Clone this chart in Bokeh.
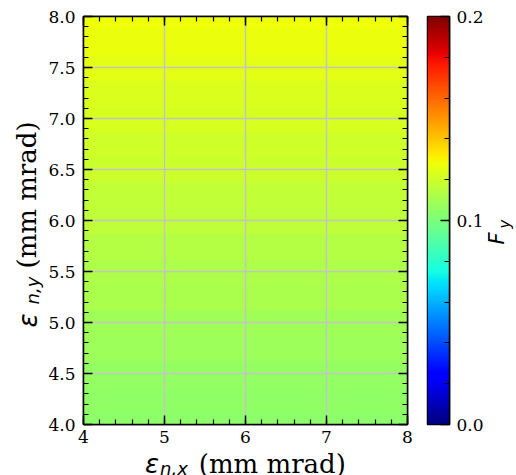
import numpy as np
from bokeh.plotting import figure
from bokeh.layouts import row, column
from bokeh.models import (LinearColorMapper, SingleIntervalTicker, LinearAxis,
                          PrintfTickFormatter, Range1d)
from bokeh.core.properties import value
from bokeh.embed import file_html
from bokeh.resources import INLINE

# ---------------- data ----------------
eps_y = [4.00, 4.25, 4.50, 4.75, 5.00, 5.25, 5.50, 5.75, 6.00,
         6.25, 6.50, 6.75, 7.00, 7.25, 7.50, 7.75, 8.00]
F_y = [0.104, 0.105, 0.106, 0.108, 0.109, 0.111, 0.112, 0.114, 0.116,
       0.117, 0.119, 0.120, 0.122, 0.123, 0.125, 0.127, 0.128]
eps_x_span = [4.0, 8.0]
F_range = [0.0, 0.2]

# ---------------- jet palette ----------------
def jet_palette(n=256):
    t = np.linspace(0, 1, n)
    r = np.interp(t, [0, 0.35, 0.66, 0.89, 1], [0, 0, 1, 1, 0.5])
    g = np.interp(t, [0, 0.125, 0.375, 0.64, 0.91, 1], [0, 0, 1, 1, 0, 0])
    b = np.interp(t, [0, 0.11, 0.34, 0.65, 1], [0.5, 1, 1, 0, 0])
    return ["#%02x%02x%02x" % (int(round(a * 255)), int(round(c * 255)), int(round(d * 255)))
            for a, c, d in zip(r, g, b)]

PAL = jet_palette()
mapper = LinearColorMapper(palette=PAL, low=F_range[0], high=F_range[1])

SERIF = "DejaVu Serif"
SANS = "DejaVu Sans"
TICK_FS = "17px"
LBL_FS = "26px"
SUB_FS = "18px"

# page layout (pixels): main frame spans x 81..407, y 16..424
FT, FB = 16, 424


def text_fig(width, height, x0, x1, y_top, y_bot, bl=0, br=0, bt=0, bb=0):
    f = figure(title=None, width=width, height=height,
               x_range=Range1d(x0, x1), y_range=Range1d(y_bot, y_top),
               output_backend="svg", toolbar_location=None,
               x_axis_location=None, y_axis_location=None,
               min_border=0, min_border_left=bl, min_border_right=br,
               min_border_top=bt, min_border_bottom=bb, outline_line_color=None,
               background_fill_color="white", border_fill_color="white")
    f.grid.visible = False
    return f


def put(f, x, y, txt, font, size, italic=False, align="left", angle=0.0):
    f.text(x=[x], y=[y], text=[txt], angle=angle, text_align=align, text_baseline="alphabetic",
           text_font=value(font), text_font_size=value(size),
           text_font_style="italic" if italic else "normal", text_color="black")


def style_axis(ax, ticker, show_labels=True, fmt=None):
    ax.ticker = ticker
    ax.axis_line_color = "black"
    ax.axis_line_width = 1.5
    ax.major_tick_line_color = "black"
    ax.major_tick_line_width = 1.5
    ax.minor_tick_line_color = "black"
    ax.minor_tick_line_width = 1.2
    ax.major_tick_in = 9
    ax.major_tick_out = 0
    ax.minor_tick_in = 5
    ax.minor_tick_out = 0
    if fmt is not None:
        ax.formatter = fmt
    if show_labels:
        ax.major_label_text_font = SERIF
        ax.major_label_text_font_size = TICK_FS
        ax.major_label_text_color = "black"
    else:
        ax.major_label_text_color = None
        ax.major_label_text_font_size = "1px"


# ---------------- main heatmap ----------------
p = figure(width=375, height=450, x_range=Range1d(4, 8), y_range=Range1d(4, 8),
           output_backend="svg", toolbar_location=None,
           min_border_left=36, min_border_right=13, min_border_top=16, min_border_bottom=26,
           background_fill_color="white", border_fill_color="white",
           outline_line_color="black", outline_line_width=1.5)

x_c = (eps_x_span[0] + eps_x_span[1]) / 2
x_w = eps_x_span[1] - eps_x_span[0]
p.rect(x=[x_c] * len(eps_y), y=eps_y, width=x_w, height=0.25,
       fill_color={"field": "y", "transform": mapper},
       line_color={"field": "y", "transform": mapper}, level="image")
r = p.renderers[-1]
r.data_source.data["f"] = F_y
r.glyph.fill_color = {"field": "f", "transform": mapper}
r.glyph.line_color = {"field": "f", "transform": mapper}

p.xgrid.grid_line_color = "#c4c4c4"
p.ygrid.grid_line_color = "#c4c4c4"
p.xgrid.grid_line_width = 1.5
p.ygrid.grid_line_width = 1.5

style_axis(p.xaxis[0], SingleIntervalTicker(interval=1, num_minor_ticks=5), True,
           PrintfTickFormatter(format="%d"))
p.xaxis[0].major_label_standoff = 6
style_axis(p.yaxis[0], SingleIntervalTicker(interval=0.5, num_minor_ticks=5), True,
           PrintfTickFormatter(format="%.1f"))
p.yaxis[0].major_label_standoff = 8
p.xgrid.ticker = p.xaxis[0].ticker
p.ygrid.ticker = p.yaxis[0].ticker

top_ax = LinearAxis()
style_axis(top_ax, SingleIntervalTicker(interval=1, num_minor_ticks=5), False)
p.add_layout(top_ax, "above")
right_ax = LinearAxis()
style_axis(right_ax, SingleIntervalTicker(interval=0.5, num_minor_ticks=5), False)
p.add_layout(right_ax, "right")

# ---------------- x-axis label strip (frame aligned with main frame: x 81..407) ----------------
xl = text_fig(375, 25, 81, 407, 450, 475, bl=36, br=13)
put(xl, 157, 463, "ε", SANS, LBL_FS, italic=True, align="right")
put(xl, 158, 468, "n,x", SANS, SUB_FS, italic=True)
put(xl, 197, 463, "(mm mrad)", SERIF, LBL_FS)

# ---------------- y-axis label strip (frame aligned: y 16..424) ----------------
ang = np.pi / 2
yl = text_fig(45, 475, 0, 45, FT, FB, bt=FT, bb=475 - FB)
put(yl, 27, 327, "ε", SANS, LBL_FS, italic=True, angle=ang)
put(yl, 32, 304, "n,y", SANS, SUB_FS, italic=True, angle=ang)
put(yl, 26, 268, "(mm mrad)", SERIF, LBL_FS, angle=ang)

# ---------------- colour bar ----------------
cb = figure(width=67, height=475, x_range=Range1d(0, 1), y_range=Range1d(F_range[0], F_range[1]),
            output_backend="svg", toolbar_location=None, x_axis_location=None, y_axis_location="right",
            min_border_left=7, min_border_right=38, min_border_top=FT, min_border_bottom=475 - FB,
            background_fill_color="white", border_fill_color="white",
            outline_line_color="black", outline_line_width=1.5)
grad = np.linspace(F_range[0], F_range[1], 256).reshape(-1, 1)
cb.image(image=[grad], x=0, y=F_range[0], dw=1, dh=F_range[1] - F_range[0], color_mapper=mapper)
cb.xgrid.visible = False
cb.ygrid.visible = False
cax = cb.yaxis[0]
style_axis(cax, SingleIntervalTicker(interval=0.1, num_minor_ticks=5), True,
           PrintfTickFormatter(format="%.1f"))
cax.major_label_standoff = 7

# ---------------- colour-bar label strip ----------------
fl = text_fig(29, 475, 487, 516, FT, FB, bt=FT, bb=475 - FB)
put(fl, 496, 244, "F", SANS, "21px", italic=True, angle=ang)
put(fl, 504, 228, "y", SANS, "15px", italic=True, angle=ang)

layout = row(yl, column(p, xl), cb, fl)
open("out.html", "w").write(file_html(layout, INLINE))
